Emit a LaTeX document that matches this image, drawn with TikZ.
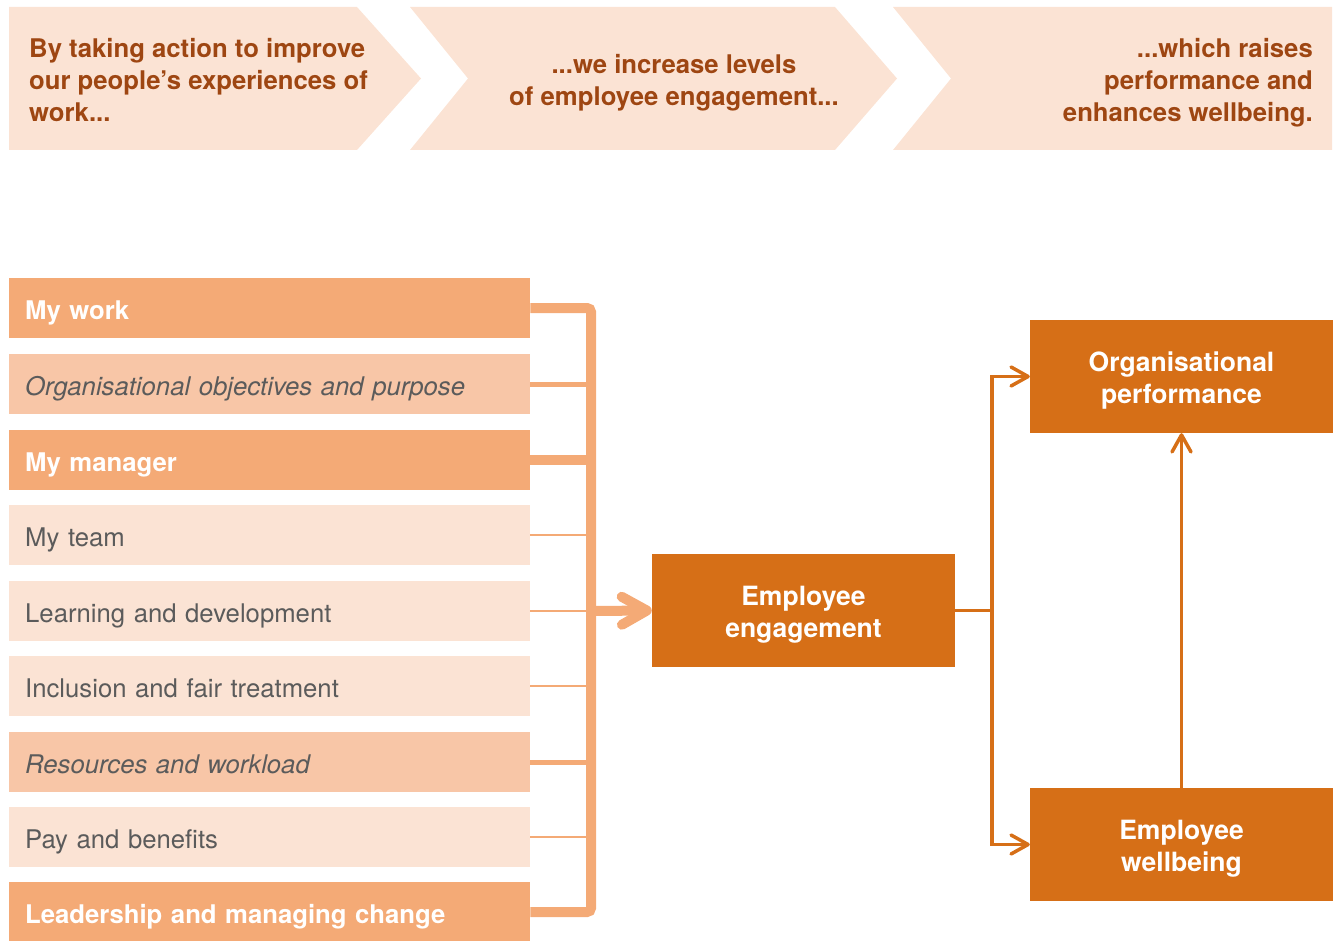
\documentclass[tikz,border=0pt]{standalone}
\usepackage{fontspec}
\setmainfont{TeX Gyre Heros}
\usetikzlibrary{arrows.meta}
\definecolor{peach}{HTML}{FBE3D4}
\definecolor{rmed}{HTML}{F8C6A7}
\definecolor{rdark}{HTML}{F4AA76}
\definecolor{ordark}{HTML}{D66F17}
\definecolor{brownt}{HTML}{9E4612}
\definecolor{greyt}{HTML}{5B5B5B}
\newcommand{\lowr}{\rule{0pt}{27.5pt}}
\tikzset{
  chev/.style={fill=peach, draw=none},
  toptext/.style={text=brownt, font=\bfseries\fontsize{25.7}{32}\selectfont, inner sep=0pt},
  rowbox/.style={anchor=west, minimum height=60pt, text width=489pt, inner xsep=16pt, inner ysep=0pt, align=left, text height=22pt, text depth=0pt, font=\fontsize{25.7}{30}\selectfont},
  rowdark/.style={rowbox, fill=rdark, text=white, font=\bfseries\fontsize{25.7}{30}\selectfont},
  rowmed/.style={rowbox, fill=rmed, text=greyt, font=\itshape\fontsize{25.7}{30}\selectfont},
  rowlight/.style={rowbox, fill=peach, text=greyt},
  outbox/.style={fill=ordark, text=white, font=\bfseries\fontsize{26.5}{32}\selectfont, minimum width=303pt, minimum height=113pt, align=center, inner sep=0pt},
  barthick/.style={draw=rdark, line width=10pt},
  barmed/.style={draw=rdark, line width=5pt},
  barthin/.style={draw=rdark, line width=2.5pt},
  bigarrow/.style={barthick, -{Straight Barb[length=25pt, width=28pt, round]}},
  conn/.style={draw=ordark, line width=3.5pt, -{Straight Barb[length=17pt, width=19pt, round]}},
}
\begin{document}
\begin{tikzpicture}[x=1pt,y=-1pt]
\useasboundingbox (0,0) rectangle (1335,941);
% top chevrons
\fill[chev] (9,7) -- (357,7) -- (421,78.5) -- (357,150) -- (9,150) -- cycle;
\fill[chev] (410,7) -- (835,7) -- (897,78.5) -- (835,150) -- (410,150) -- (468,78.5) -- cycle;
\fill[chev] (893,7) -- (1332,7) -- (1332,150) -- (893,150) -- (951,78.5) -- cycle;
\node[toptext, anchor=west, align=left] (t1) at (29,80) {By taking action to improve\\our people’s experiences of\\work...};
\node[toptext, align=center] (t2) at (674,83) {...we increase levels\\of employee engagement...};
\node[toptext, anchor=east, align=right] (t3) at (1313,83) {...which raises\\performance and\\enhances wellbeing.};
% rows
\node[rowdark]  (r1) at (9,308)   {My work};
\node[rowmed]   (r2) at (9,384)   {Organisational objectives and purpose};
\node[rowdark]  (r3) at (9,460)   {My manager};
\node[rowlight] (r4) at (9,535)   {My team};
\node[rowlight] (r5) at (9,611)   {Learning and development};
\node[rowlight] (r6) at (9,686)   {Inclusion and fair treatment};
\node[rowmed]   (r7) at (9,762)   {Resources and workload};
\node[rowlight] (r8) at (9,837)   {Pay and benefits};
\node[rowdark]  (r9) at (9,912)   {Leadership and managing change};
% outcome boxes
\node[outbox] (ee) at (803.5,610.5) {\lowr Employee\\engagement};
\node[outbox] (op) at (1181.5,376.5) {\lowr Organisational\\performance};
\node[outbox] (ew) at (1181.5,844.5) {\lowr Employee\\wellbeing};
% bracket
\coordinate (bt) at (591,308);
\coordinate (bb) at (591,912);
\coordinate (bm) at (591,611);
\draw[barthick, rounded corners=4pt] (r1.east) -- (bt) -- (bb) -- (r9.east);
\draw[barmed] (r2.east) -- (r2.east -| bt);
\draw[barthick] (r3.east) -- (r3.east -| bt);
\draw[barthin] (r4.east) -- (r4.east -| bt);
\draw[barthin] (r5.east) -- (r5.east -| bt);
\draw[barthin] (r6.east) -- (r6.east -| bt);
\draw[barmed] (r7.east) -- (r7.east -| bt);
\draw[barthin] (r8.east) -- (r8.east -| bt);
\draw[bigarrow] (bm) -- (ee.west);
% right connectors
\coordinate (j) at (992,610.5);
\draw[conn] (ee.east) -- (j) |- (op.west);
\draw[conn] (j) |- (ew.west);
\draw[conn] (ew.north) -- (op.south);
\end{tikzpicture}
\end{document}
